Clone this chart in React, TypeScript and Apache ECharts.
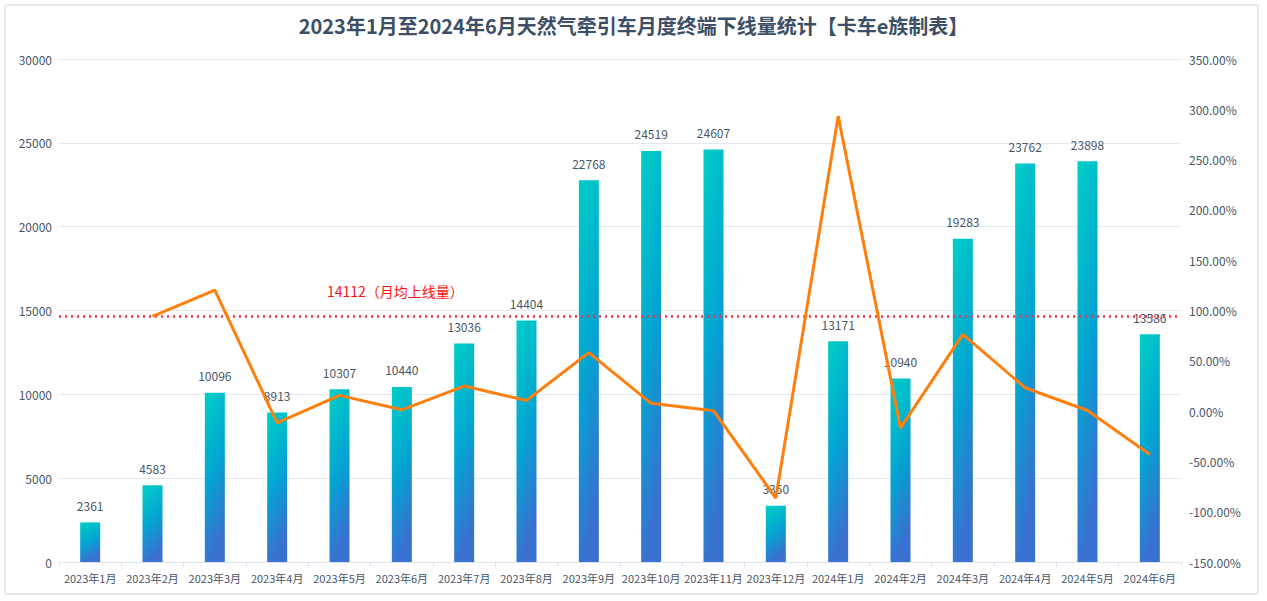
import { useEffect, useRef } from 'react';
import * as echarts from 'echarts';

const months = [
  '2023年1月', '2023年2月', '2023年3月', '2023年4月', '2023年5月', '2023年6月',
  '2023年7月', '2023年8月', '2023年9月', '2023年10月', '2023年11月', '2023年12月',
  '2024年1月', '2024年2月', '2024年3月', '2024年4月', '2024年5月', '2024年6月'
];

const volumes = [
  2361, 4583, 10096, 8913, 10307, 10440, 13036, 14404, 22768,
  24519, 24607, 3350, 13171, 10940, 19283, 23762, 23898, 13586
];

// month-on-month change, %
const growth = [
  null, 94.1, 120.3, -11.7, 15.6, 1.3, 24.9, 10.5, 58.1,
  7.7, 0.4, -86.4, 293.2, -16.9, 76.3, 23.2, 0.6, -43.1
];

const avgLineValue = 14650;
const avgLabel = '14112（月均上线量）';

const font = '"Noto Sans CJK SC", "Noto Sans", sans-serif';
const textColor = '#4a5568';

const App = () => {
  const chartRef = useRef<HTMLDivElement>(null);

  useEffect(() => {
    if (!chartRef.current) return;
    const myChart = echarts.init(chartRef.current, null, { renderer: 'svg' });

    const option = {
      animation: false,
      backgroundColor: '#ffffff',
      textStyle: { fontFamily: font },
      title: {
        text: '2023年1月至2024年6月天然气牵引车月度终端下线量统计【卡车e族制表】',
        left: 'center',
        top: 10,
        textStyle: { fontSize: 20, fontWeight: 'bold', color: '#3d4f66', fontFamily: font }
      },
      graphic: [
        {
          type: 'rect',
          shape: { x: 5, y: 5, width: 1253, height: 589, r: 2 },
          style: { fill: 'none', stroke: '#e4e8ef', lineWidth: 2 },
          silent: true,
          z: -1
        }
      ],
      grid: { left: 59, right: 86, top: 59, bottom: 39 },
      xAxis: {
        type: 'category',
        data: months,
        axisLine: { lineStyle: { color: '#dde3ec' } },
        axisTick: { show: true, lineStyle: { color: '#dde3ec' } },
        axisLabel: { color: textColor, fontSize: 11, margin: 10, interval: 0, hideOverlap: false }
      },
      yAxis: [
        {
          type: 'value',
          min: 0,
          max: 30000,
          interval: 5000,
          axisLabel: {
            color: textColor,
            fontSize: 12,
            margin: 7,
            formatter: (v: number) => String(v)
          },
          axisLine: { show: false },
          axisTick: { show: false },
          splitLine: { lineStyle: { color: '#e3e8f0' } }
        },
        {
          type: 'value',
          min: -150,
          max: 350,
          interval: 50,
          axisLabel: {
            color: textColor,
            fontSize: 12,
            margin: 8,
            formatter: (v: number) => v.toFixed(2) + '%'
          },
          axisLine: { show: false },
          axisTick: { show: false },
          splitLine: { show: false }
        }
      ],
      series: [
        {
          name: '下线量',
          type: 'bar',
          data: volumes,
          barWidth: 20,
          itemStyle: {
            color: new echarts.graphic.LinearGradient(0, 0, 0.25, 1, [
              { offset: 0, color: '#00cfc6' },
              { offset: 0.55, color: '#03a4d2' },
              { offset: 1, color: '#3a70d0' }
            ])
          },
          label: {
            show: true,
            position: 'top',
            distance: 11,
            color: textColor,
            fontSize: 12
          },
          markLine: {
            symbol: 'none',
            silent: true,
            lineStyle: { color: '#f4304a', type: [2, 4], width: 2.5 },
            label: {
              show: true,
              position: 'insideStartTop',
              distance: [268, 18],
              formatter: avgLabel,
              color: '#ff1010',
              fontSize: 14
            },
            data: [{ yAxis: avgLineValue }]
          }
        },
        {
          name: '环比',
          type: 'line',
          yAxisIndex: 1,
          data: growth,
          showSymbol: false,
          symbol: 'none',
          lineStyle: { color: '#ff7f0e', width: 3 },
          itemStyle: { color: '#ff7f0e' },
          z: 5
        }
      ]
    };

    myChart.setOption(option);

    const handleResize = () => myChart.resize();
    window.addEventListener('resize', handleResize);

    return () => {
      window.removeEventListener('resize', handleResize);
      myChart.dispose();
    };
  }, []);

  return (
    <div
      ref={chartRef}
      style={{ position: 'fixed', left: 0, top: 0, width: 1267, height: 601 }}
    />
  );
};

export default App;
